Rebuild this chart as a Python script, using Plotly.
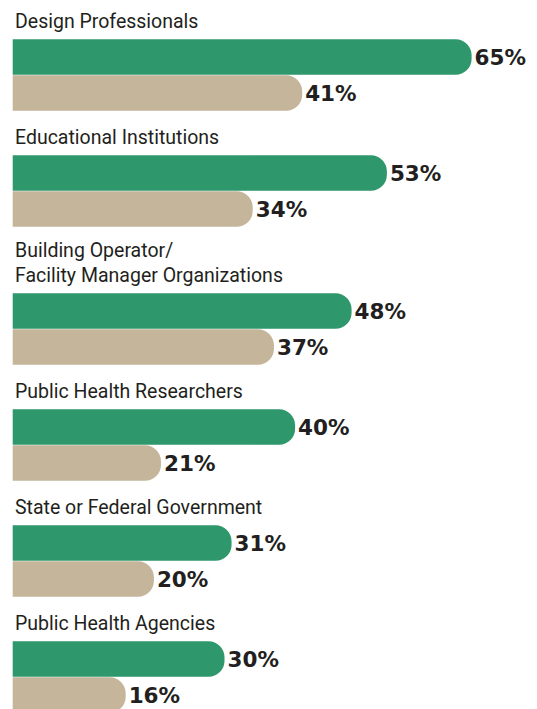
import plotly.graph_objects as go

# Survey data: share of respondents per stakeholder group
groups = [
    "Design Professionals",
    "Educational Institutions",
    "Building Operator/<br>Facility Manager Organizations",
    "Public Health Researchers",
    "State or Federal Government",
    "Public Health Agencies",
]
green_values = [65, 53, 48, 40, 31, 30]
tan_values = [41, 34, 37, 21, 20, 16]

GREEN = "#2e976c"
TAN = "#c4b59b"
INK = "#231f20"

W, H = 537, 709
BAR_H = 36          # bar thickness in px
PX_PER_PCT = 7.06   # horizontal scale
LEFT = 12.7         # left edge of the bars in px

# vertical layout (y axis runs in pixels, top = 0)
green_y, tan_y, label_y = [], [], []
extra = 0
for i, g in enumerate(groups):
    extra += 22 * g.count("<br>")
    top = 39 + 116 * i + extra
    green_y.append(top + BAR_H / 2)
    tan_y.append(top + BAR_H * 1.5)
    label_y.append(top)

label_font = dict(family="Roboto, Liberation Sans, sans-serif", size=19.5, color=INK)
value_font = dict(family="DejaVu Sans, sans-serif", size=21.5, color=INK, weight="bold")

fig = go.Figure()
for vals, ys, col in [(green_values, green_y, GREEN), (tan_values, tan_y, TAN)]:
    fig.add_trace(go.Bar(
        x=vals, y=ys, orientation="h", width=BAR_H - 0.5,
        marker=dict(color=col, line=dict(width=0), cornerradius=16),
        text=[f"{v}%" for v in vals], textposition="outside",
        textfont=value_font, constraintext="none", cliponaxis=False,
        hoverinfo="skip",
    ))

for g, y in zip(groups, label_y):
    fig.add_annotation(
        x=0, y=y, xref="x", yref="y", text=g, showarrow=False,
        xanchor="left", yanchor="bottom", align="left", yshift=4,
        font=label_font,
    )

fig.update_layout(
    width=W, height=H, margin=dict(l=0, r=0, t=0, b=0),
    paper_bgcolor="white", plot_bgcolor="white",
    showlegend=False, barmode="overlay",
    xaxis=dict(range=[-LEFT / PX_PER_PCT, (W - LEFT) / PX_PER_PCT],
               visible=False, fixedrange=True),
    yaxis=dict(range=[H, 0], visible=False, fixedrange=True),
)

fig.write_html("out.html")
